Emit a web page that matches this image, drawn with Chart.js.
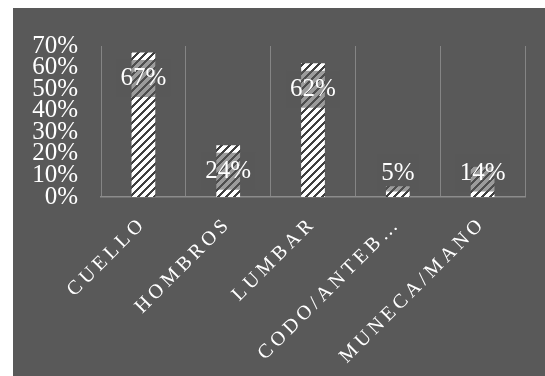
<!DOCTYPE html>
<html><head><meta charset="utf-8">
<script src="https://cdn.jsdelivr.net/npm/chart.js@4"></script>
<style>
html,body{margin:0;padding:0;background:#fff;width:545px;height:376px;overflow:hidden}
#wrap{position:absolute;left:13px;top:8px;width:532px;height:368px;background:#595959}
</style></head><body>
<div id="wrap"><canvas id="c"></canvas></div>
<script>
const categories = ['CUELLO', 'HOMBROS', 'LUMBAR', 'CODO/ANTEB…', 'MUNECA/MANO'];
const values = [0.67, 0.24, 0.62, 0.05, 0.14];
const valueLabels = ['67%', '24%', '62%', '5%', '14%'];
const yTickLabels = ['0%', '10%', '20%', '30%', '40%', '50%', '60%', '70%'];

const SERIF = '"Liberation Serif", "DejaVu Serif", serif';

class SpacedCategoryScale extends Chart.CategoryScale {
  drawLabels(area) {
    const ctx = this.ctx;
    ctx.save();
    ctx.letterSpacing = '4px';
    super.drawLabels(area);
    ctx.restore();
  }
}
SpacedCategoryScale.id = 'spacedCategory';
SpacedCategoryScale.defaults = Chart.CategoryScale.defaults;
Chart.register(SpacedCategoryScale);

function makeHatch(ctx) {
  const c = document.createElement('canvas');
  c.width = 8; c.height = 8;
  const g = c.getContext('2d');
  g.fillStyle = '#ffffff';
  g.fillRect(0, 0, 8, 8);
  g.fillStyle = '#404040';
  for (let x = 0; x < 8; x++) for (let y = 0; y < 8; y++) {
    if (((x + y) % 8) < 3) g.fillRect(x, y, 1, 1);
  }
  return ctx.createPattern(c, 'repeat');
}

const canvas = document.getElementById('c');
const ctx0 = canvas.getContext('2d');
const hatch = makeHatch(ctx0);

const labelPlugin = {
  id: 'valueLabels',
  afterDatasetsDraw(chart) {
    const ctx = chart.ctx;
    const meta = chart.getDatasetMeta(0);
    const y0 = chart.scales.y.getPixelForValue(0);
    ctx.save();
    ctx.font = '25px ' + SERIF;
    ctx.textAlign = 'center';
    ctx.textBaseline = 'middle';
    meta.data.forEach((bar, i) => {
      const txt = valueLabels[i];
      const cy = Math.min(bar.y + 26, y0 - 24);
      const w = ctx.measureText(txt).width + 8;
      ctx.fillStyle = 'rgba(89,89,89,0.6)';
      ctx.fillRect(bar.x - w / 2, cy - 18.5, w, 37);
      ctx.fillStyle = '#ffffff';
      ctx.fillText(txt, bar.x, cy);
    });
    ctx.restore();
  }
};

new Chart(canvas, {
  type: 'bar',
  data: {
    labels: categories,
    datasets: [{
      data: values,
      backgroundColor: hatch,
      borderWidth: 0,
      barPercentage: 0.28,
      categoryPercentage: 1.0
    }]
  },
  options: {
    responsive: true,
    maintainAspectRatio: false,
    animation: false,
    layout: { padding: { top: 30, right: 20, left: 0, bottom: 0 } },
    plugins: { legend: { display: false }, tooltip: { enabled: false } },
    scales: {
      x: {
        type: 'spacedCategory',
        offset: true,
        grid: { display: true, color: '#858585', lineWidth: 1, drawTicks: false, offset: true },
        border: { display: true, color: '#8c8c8c', width: 1.5 },
        ticks: {
          color: '#ffffff',
          font: { family: SERIF, size: 20 },
          minRotation: 45, maxRotation: 45,
          autoSkip: false,
          padding: 15
        },
        afterFit(scale) { scale.height = 179; }
      },
      y: {
        min: 0, max: 0.7,
        grid: { display: false, drawTicks: false },
        border: { display: false },
        ticks: {
          stepSize: 0.1,
          autoSkip: false,
          color: '#ffffff',
          font: { family: SERIF, size: 25 },
          padding: 23,
          callback: (v, i) => yTickLabels[i]
        },
        afterFit(scale) { scale.width = 88; }
      }
    }
  },
  plugins: [labelPlugin]
});
</script>
</body></html>
